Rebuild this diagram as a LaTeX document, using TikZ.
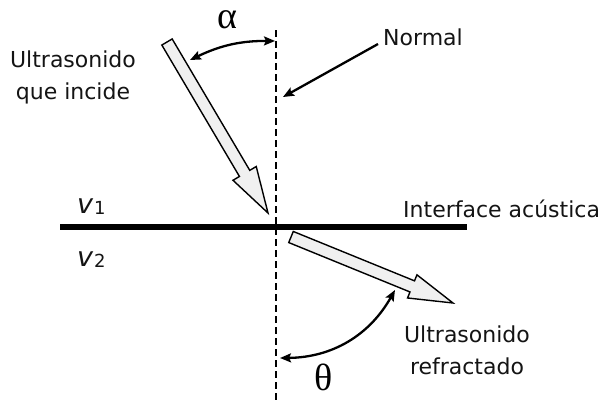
\documentclass[tikz,border=0pt]{standalone}
\usepackage{fontspec}
\setmainfont{DejaVu Sans}
\newfontfamily\grk{Liberation Serif}
\usetikzlibrary{arrows.meta,calc}
\begin{document}
\begin{tikzpicture}[x=1pt,y=-1pt,
  lbl/.style={font=\fontsize{22}{32}\selectfont, inner sep=0pt, text=black!92},
  greek/.style={font=\grk\fontsize{38}{38}\selectfont, inner sep=0pt},
  normalline/.style={dash pattern=on 7pt off 4pt, line width=2.1pt},
  iface/.style={line width=5.5pt},
  beam/.style={draw=black, fill=black!6, line width=1.4pt, line join=miter},
  angarrow/.style={{Stealth[length=11pt,width=9pt,inset=2pt]}-{Stealth[length=11pt,width=9pt,inset=2pt]}, line width=2.3pt},
  ptr/.style={-{Stealth[length=11pt,width=9pt,inset=2pt]}, line width=2.3pt}
]
\useasboundingbox (0,0) rectangle (607,400);

% normal (dashed) and interface
\coordinate (ntop) at (276,30);
\coordinate (nbot) at (276,400);
\draw[normalline] (ntop) -- (nbot);
\coordinate (ileft) at (60,227);
\coordinate (iright) at (467,227);
\draw[iface] (ileft) -- (iright);

% incident beam
\coordinate (itail) at (167,42);
\coordinate (itip) at (268,213);
\coordinate (ih) at ($(itip)!46pt!(itail)$);
\draw[beam] ($(itail)!6pt!90:(itip)$) -- ($(ih)!6pt!-90:(itail)$) -- ($(ih)!13.5pt!-90:(itail)$) -- (itip)
  -- ($(ih)!13.5pt!90:(itail)$) -- ($(ih)!6pt!90:(itail)$) -- ($(itail)!6pt!-90:(itip)$) -- cycle;

% refracted beam
\coordinate (rtail) at (291,237);
\coordinate (rtip) at (453,303);
\coordinate (rh) at ($(rtip)!44pt!(rtail)$);
\draw[beam] ($(rtail)!6pt!90:(rtip)$) -- ($(rh)!6pt!-90:(rtail)$) -- ($(rh)!12.5pt!-90:(rtail)$) -- (rtip)
  -- ($(rh)!12.5pt!90:(rtail)$) -- ($(rh)!6pt!90:(rtail)$) -- ($(rtail)!6pt!-90:(rtip)$) -- cycle;

% angle arcs
\coordinate (a1) at (190,60);
\coordinate (a2) at (275,41);
\draw[angarrow] (a1) to[bend left=13] (a2);
\coordinate (t1) at (395,290);
\coordinate (t2) at (280,358);
\draw[angarrow] (t1) to[bend left=30] (t2);

% labels
\node[greek] (alpha) at (227,20) {α};
\node[greek] (theta) at (324,377) {θ};
\node[lbl, align=center] (inc) at (73,77) {Ultrasonido\\que incide};
\node[lbl, anchor=base west] (normal) at (383,45) {Normal};
\node[lbl, anchor=base west] (iface) at (403,217) {Interface acústica};
\node[lbl, align=center] (refr) at (467,350) {Ultrasonido\\refractado};
\node[lbl, anchor=base west] (v1) at (77,213) {\fontsize{27}{27}\selectfont\itshape v\kern1pt\raisebox{-1pt}{\fontsize{18}{18}\selectfont\upshape 1}};
\node[lbl, anchor=base west] (v2) at (77,266) {\fontsize{27}{27}\selectfont\itshape v\kern1pt\raisebox{-1pt}{\fontsize{18}{18}\selectfont\upshape 2}};

% pointer from Normal label
\coordinate (nstart) at (378,44);
\coordinate (nend) at (283,97);
\draw[ptr] (nstart) -- (nend);
\end{tikzpicture}
\end{document}
